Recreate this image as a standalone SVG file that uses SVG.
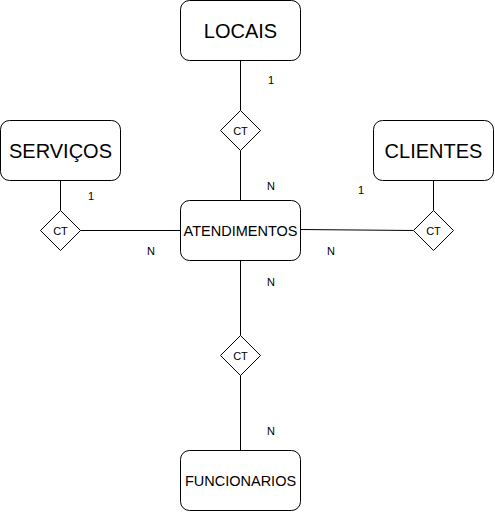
<svg xmlns="http://www.w3.org/2000/svg" width="495" height="512" viewBox="0 0 495 512">
<style>
.ent{fill:#fff;stroke:#000;stroke-width:1}
.rel{fill:#fff;stroke:#000;stroke-width:1}
.big{font-family:"Liberation Sans",Arial,sans-serif;font-size:20px;fill:#000;text-anchor:middle}
.mid{font-family:"Liberation Sans",Arial,sans-serif;font-size:14.5px;fill:#000;text-anchor:middle}
.sm{font-family:"Liberation Sans",Arial,sans-serif;font-size:11px;fill:#000;text-anchor:middle}
.ln{stroke:#000;stroke-width:1;fill:none}
</style>
<rect width="495" height="512" fill="#fff"/>
<g id="connectors">
<path class="ln" d="M240.5 60.5V110.5M240.5 150.5V200.5"/>
<path class="ln" d="M60.5 180.5V210.5M80.5 230.5H180.5"/>
<path class="ln" d="M433.5 180.5V210.5M300.5 229.5L413.5 230.5"/>
<path class="ln" d="M240.5 260.5V335.5M240.5 375.5V450.5"/>
<text class="sm" x="271" y="84">1</text>
<text class="sm" x="271" y="190">N</text>
<text class="sm" x="91" y="200">1</text>
<text class="sm" x="151" y="255">N</text>
<text class="sm" x="361" y="194">1</text>
<text class="sm" x="331" y="255">N</text>
<text class="sm" x="271" y="286">N</text>
<text class="sm" x="271" y="435">N</text>
</g>
<g id="locais">
<rect class="ent" x="180.5" y="0.5" width="120" height="60" rx="9"/>
<text class="big" x="240.5" y="37.5">LOCAIS</text>
</g>
<g id="servicos">
<rect class="ent" x="0.5" y="120.5" width="120" height="60" rx="9"/>
<text class="big" x="60.5" y="157.5">SERVIÇOS</text>
</g>
<g id="clientes">
<rect class="ent" x="373.5" y="120.5" width="120" height="60" rx="9"/>
<text class="big" x="433.5" y="157.5">CLIENTES</text>
</g>
<g id="atendimentos">
<rect class="ent" x="180.5" y="200.5" width="120" height="60" rx="9"/>
<text class="mid" x="240.5" y="235.5">ATENDIMENTOS</text>
</g>
<g id="funcionarios">
<rect class="ent" x="180.5" y="450.5" width="120" height="60" rx="9"/>
<text class="mid" x="240.5" y="485.5">FUNCIONARIOS</text>
</g>
<g id="ct-locais">
<path class="rel" d="M240.5 110.5L260.5 130.5L240.5 150.5L220.5 130.5Z"/>
<text class="sm" x="240.5" y="134.5">CT</text>
</g>
<g id="ct-servicos">
<path class="rel" d="M60.5 210.5L80.5 230.5L60.5 250.5L40.5 230.5Z"/>
<text class="sm" x="60.5" y="234.5">CT</text>
</g>
<g id="ct-clientes">
<path class="rel" d="M433.5 210.5L453.5 230.5L433.5 250.5L413.5 230.5Z"/>
<text class="sm" x="433.5" y="234.5">CT</text>
</g>
<g id="ct-funcionarios">
<path class="rel" d="M240.5 335.5L260.5 355.5L240.5 375.5L220.5 355.5Z"/>
<text class="sm" x="240.5" y="359.5">CT</text>
</g>
</svg>
